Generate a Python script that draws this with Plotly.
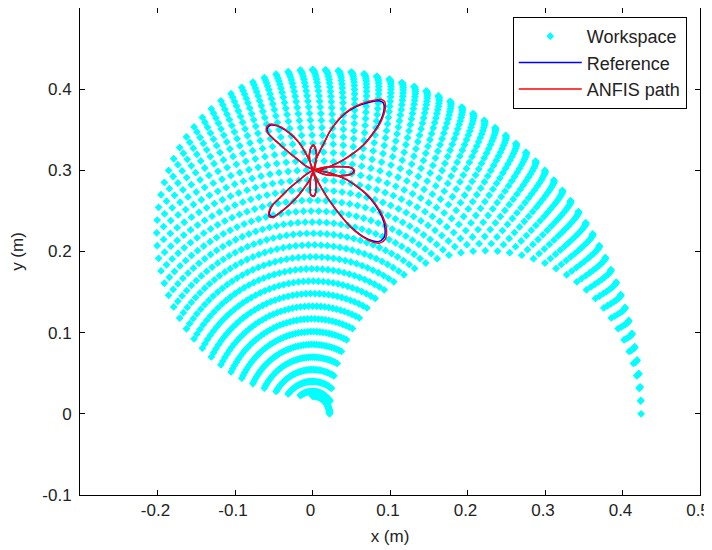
import numpy as np
import plotly.graph_objects as go

# ---- Data ----
# Two-link arm: link lengths (m) read from the workspace extent
L1 = 0.223
L2 = 0.201
# Joint-angle grid (degrees) used to sweep the workspace
THETA1_DEG = [0, 2.25, 4.5, 6.75, 9, 11.25, 13.5, 15.75, 18, 20.25, 22.5, 24.75, 27, 29.25,
              31.5, 33.75, 36, 38.25, 40.5, 42.75, 45, 47.25, 49.5, 51.75, 54, 56.25, 58.5,
              60.75, 63, 65.25, 67.5, 69.75, 72, 74.25, 76.5, 78.75, 81, 83.25, 85.5, 87.75, 90]
THETA2_DEG = [0, 4.5, 9, 13.5, 18, 22.5, 27, 31.5, 36, 40.5, 45, 49.5, 54, 58.5, 63, 67.5,
              72, 76.5, 81, 85.5, 90, 94.5, 99, 103.5, 108, 112.5, 117, 121.5, 126, 130.5,
              135, 139.5, 144, 148.5, 153, 157.5, 162, 166.5, 171, 175.5, 180]

# Reference path (m)
ref_x = [0.001, 0.0052, 0.0137, 0.0224, 0.0353, 0.0483, 0.0612, 0.0763, 0.0871, 0.0915,
         0.0925, 0.0906, 0.0849, 0.0763, 0.0655, 0.0525, 0.0375, 0.0224, 0.0100, 0.001,
         0.015, 0.030, 0.045, 0.052, 0.053, 0.047, 0.030, 0.015, 0.001,
         0.005, 0.0116, 0.0224, 0.0353, 0.0483, 0.0612, 0.0741, 0.0849, 0.0922, 0.0935,
         0.0893, 0.0806, 0.0699, 0.0569, 0.0440, 0.0288, 0.0137, 0.001,
         0.004, 0.0045, 0.002, -0.002, -0.003, -0.002, 0.001,
         -0.008, -0.0164, -0.0294, -0.0423, -0.0510, -0.0552, -0.0550, -0.0500, -0.0420,
         -0.0300, -0.0200, -0.0110, -0.0035, 0.001,
         -0.0078, -0.0186, -0.0294, -0.0423, -0.0510, -0.0570, -0.0585, -0.0545, -0.0488,
         -0.0401, -0.0294, -0.0186, -0.0100, -0.0035, 0.001,
         0.0045, 0.0045, 0.001, -0.003, -0.0035, 0.001]
ref_y = [0.300, 0.315, 0.3313, 0.3476, 0.3639, 0.3741, 0.3803, 0.3845, 0.3855, 0.3830,
         0.3770, 0.3680, 0.3558, 0.3436, 0.3313, 0.3210, 0.3117, 0.3048, 0.3010, 0.300,
         0.3035, 0.3045, 0.3040, 0.3015, 0.2980, 0.2945, 0.2935, 0.2950, 0.300,
         0.2900, 0.2782, 0.2619, 0.2456, 0.2313, 0.2212, 0.2142, 0.2121, 0.2170, 0.2293,
         0.2436, 0.2579, 0.2701, 0.2803, 0.2885, 0.2946, 0.2985, 0.300,
         0.2880, 0.2760, 0.2685, 0.2700, 0.2800, 0.2920, 0.300,
         0.2950, 0.2885, 0.2782, 0.2660, 0.2579, 0.2497, 0.2445, 0.2430, 0.2480,
         0.2575, 0.2670, 0.2780, 0.2885, 0.300,
         0.3048, 0.3130, 0.3211, 0.3321, 0.3394, 0.3455, 0.3510, 0.3555, 0.3555,
         0.3525, 0.3455, 0.3354, 0.3231, 0.3109, 0.300,
         0.3120, 0.3240, 0.3310, 0.3250, 0.3120, 0.300]

# ANFIS tracked path (m)
anfis_x = [0.0015, 0.0053, 0.0139, 0.0228, 0.0358, 0.0492, 0.0624, 0.0778, 0.0888, 0.0932,
           0.0943, 0.0922, 0.0866, 0.0776, 0.0668, 0.0534, 0.0383, 0.0228, 0.0102, 0.0005,
           0.0153, 0.0306, 0.0459, 0.0531, 0.0540, 0.0479, 0.0306, 0.0153, 0.0012,
           0.0051, 0.0118, 0.0229, 0.0360, 0.0493, 0.0624, 0.0756, 0.0866, 0.0940, 0.0954,
           0.0911, 0.0822, 0.0713, 0.0580, 0.0449, 0.0294, 0.0140, 0.0008,
           0.0042, 0.0047, 0.0021, -0.0022, -0.0032, -0.0021, 0.0012,
           -0.0082, -0.0168, -0.0301, -0.0432, -0.0521, -0.0564, -0.0562, -0.0510, -0.0429,
           -0.0306, -0.0204, -0.0112, -0.0036, 0.0006,
           -0.0080, -0.0190, -0.0300, -0.0432, -0.0521, -0.0582, -0.0597, -0.0556, -0.0498,
           -0.0409, -0.0300, -0.0190, -0.0102, -0.0036, 0.0010,
           0.0047, 0.0047, 0.0010, -0.0032, -0.0037, 0.0012]
anfis_y = [0.3005, 0.3153, 0.3320, 0.3485, 0.3652, 0.3756, 0.3819, 0.3862, 0.3872, 0.3846,
           0.3785, 0.3694, 0.3569, 0.3445, 0.3319, 0.3214, 0.3120, 0.3049, 0.3010, 0.2998,
           0.3038, 0.3048, 0.3043, 0.3016, 0.2979, 0.2943, 0.2934, 0.2949, 0.3002,
           0.2898, 0.2778, 0.2611, 0.2445, 0.2299, 0.2196, 0.2125, 0.2103, 0.2153, 0.2279,
           0.2425, 0.2571, 0.2695, 0.2799, 0.2883, 0.2945, 0.2985, 0.2997,
           0.2878, 0.2755, 0.2678, 0.2694, 0.2796, 0.2918, 0.3001,
           0.2949, 0.2883, 0.2777, 0.2653, 0.2570, 0.2487, 0.2434, 0.2419, 0.2470,
           0.2567, 0.2663, 0.2776, 0.2883, 0.2999,
           0.3050, 0.3133, 0.3215, 0.3328, 0.3402, 0.3464, 0.3520, 0.3566, 0.3566,
           0.3535, 0.3464, 0.3361, 0.3236, 0.3111, 0.3002,
           0.3123, 0.3245, 0.3316, 0.3255, 0.3122, 0.3003]

X_TICKS = [-0.2, -0.1, 0, 0.1, 0.2, 0.3, 0.4, 0.5]
X_TICK_TEXT = ["-0.2", "-0.1", "0", "0.1", "0.2", "0.3", "0.4", "0.5"]
Y_TICKS = [-0.1, 0, 0.1, 0.2, 0.3, 0.4]
Y_TICK_TEXT = ["-0.1", "0", "0.1", "0.2", "0.3", "0.4"]

# ---- Workspace via forward kinematics of the joint grid ----
t1 = np.radians(np.array(THETA1_DEG))
t2 = np.radians(np.array(THETA2_DEG))
T1, T2 = np.meshgrid(t1, t2)
ws_x = (L1 * np.cos(T1) + L2 * np.cos(T1 + T2)).ravel()
ws_y = (L1 * np.sin(T1) + L2 * np.sin(T1 + T2)).ravel()

FONT = "Liberation Sans, Arial, sans-serif"
TXT = "#222222"
FS = 17

fig = go.Figure()
fig.add_trace(go.Scatter(
    x=ws_x, y=ws_y, mode="markers", name="Workspace", legendgroup="a",
    marker=dict(symbol="diamond", size=6, color="#00FFFF", line=dict(width=0)),
))
fig.add_trace(go.Scatter(
    x=ref_x, y=ref_y, mode="lines", name="Reference", legendgroup="b",
    line=dict(color="#0000FF", width=1.5, shape="spline", smoothing=0.8),
))
fig.add_trace(go.Scatter(
    x=anfis_x, y=anfis_y, mode="lines", name="ANFIS path", legendgroup="c",
    line=dict(color="#FF0000", width=1.5, shape="spline", smoothing=0.8),
))

axis_common = dict(
    showgrid=False, zeroline=False, showline=True, linecolor="black", linewidth=1,
    mirror="ticks", ticks="inside", ticklen=5, tickcolor="black", automargin=False,
    tickfont=dict(family=FONT, size=FS, color=TXT),
)
fig.update_xaxes(range=[-0.3, 0.5], tickvals=X_TICKS, ticktext=X_TICK_TEXT,
                 ticklabelshift=-2,
                 title=dict(text="x (m)", font=dict(family=FONT, size=FS, color=TXT), standoff=10),
                 **axis_common)
fig.update_yaxes(range=[-0.1, 0.5], tickvals=Y_TICKS, ticktext=Y_TICK_TEXT,
                 ticklabelstandoff=4,
                 title=dict(text="y (m)", font=dict(family=FONT, size=FS, color=TXT), standoff=20),
                 **axis_common)

# The page adds an 8px body margin, so the figure is sized to fit the 712x550 window.
fig.update_layout(
    width=704, height=542,
    margin=dict(l=72, r=12, t=0, b=55),
    paper_bgcolor="white", plot_bgcolor="white",
    font=dict(family=FONT, size=FS, color=TXT),
    legend=dict(
        x=0.698, y=0.9815, xanchor="left", yanchor="top",
        bgcolor="white", bordercolor="black", borderwidth=1,
        font=dict(family=FONT, size=18, color=TXT),
        tracegroupgap=0, itemwidth=63,
    ),
    showlegend=True,
)

fig.write_html("out.html")
